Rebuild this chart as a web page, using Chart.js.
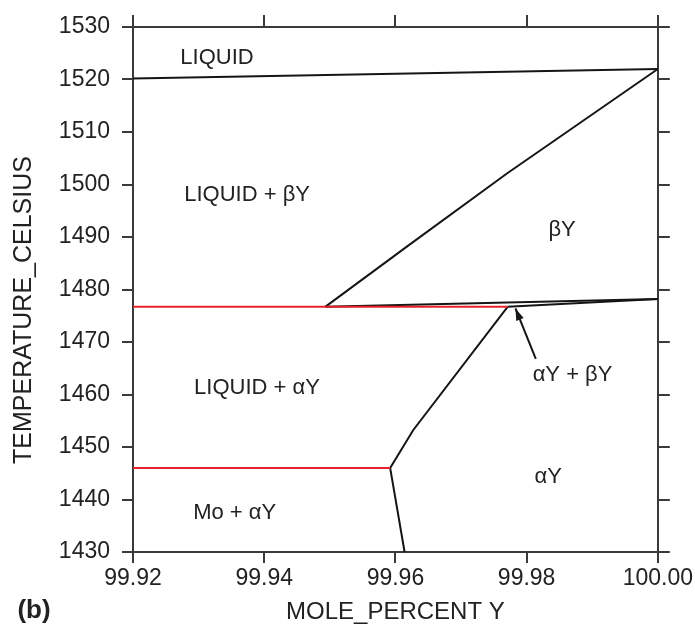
<!DOCTYPE html>
<html>
<head>
<meta charset="utf-8">
<script src="https://cdn.jsdelivr.net/npm/chart.js@4.4.1/dist/chart.umd.min.js"></script>
<style>
  html, body { margin: 0; padding: 0; background: #fff; }
  #wrap { width: 695px; height: 629px; }
</style>
</head>
<body>
<div id="wrap"><canvas id="pd"></canvas></div>
<script>
// phase boundaries, mole percent Y vs temperature (C)
const liquidusX = [99.92, 100.00];
const liquidusT = [1520.2, 1522.0];

const betaSolidusX = [99.9493, 99.962, 99.977, 100.00];
const betaSolidusT = [1476.7, 1488.4, 1502.1, 1522.0];

const betaLowerX = [99.9493, 100.00];
const betaLowerT = [1476.7, 1478.2];

const alphaUpperX = [99.9771, 100.00];
const alphaUpperT = [1476.7, 1478.2];

const alphaSolvusX = [99.9771, 99.9627, 99.9592, 99.9614];
const alphaSolvusT = [1476.7, 1453.2, 1446.0, 1430.0];

const redUpperX = [99.92, 99.9771];
const redUpperT = [1476.7, 1476.7];

const redLowerX = [99.92, 99.9592];
const redLowerT = [1446.0, 1446.0];

const arrowX = [99.9814, 99.9783];
const arrowT = [1466.8, 1476.4];

const xTicks = [99.92, 99.94, 99.96, 99.98, 100.00];

const regionText = ["LIQUID", "LIQUID + βY", "βY", "LIQUID + αY", "Mo + αY", "αY + βY", "αY"];
const regionX = [99.9328, 99.9374, 99.9854, 99.9389, 99.9355, 99.9870, 99.9833];
const regionT = [1524.1, 1498.0, 1491.3, 1461.2, 1437.4, 1463.7, 1444.3];

function pts(xs, ts) {
  return xs.map((x, i) => ({ x: x, y: ts[i] }));
}

function lineSet(xs, ts, color) {
  return {
    data: pts(xs, ts),
    showLine: true,
    borderColor: color,
    borderWidth: 2,
    pointRadius: 0,
    tension: 0,
    clip: 6
  };
}

const BLACK = "#151515";
const RED = "#e8202a";

const datasets = [
  lineSet(redUpperX, redUpperT, RED),
  lineSet(redLowerX, redLowerT, RED),
  lineSet(liquidusX, liquidusT, BLACK),
  lineSet(betaSolidusX, betaSolidusT, BLACK),
  lineSet(betaLowerX, betaLowerT, BLACK),
  lineSet(alphaUpperX, alphaUpperT, BLACK),
  lineSet(alphaSolvusX, alphaSolvusT, BLACK),
  lineSet(arrowX, arrowT, BLACK)
];
const ARROW_INDEX = datasets.length - 1;

const FONT = "'Liberation Sans', Arial, sans-serif";
const INK = "#222";
const AXIS = "#3a3a3a";

// region labels, arrow head, y title and panel letter
const annotate = {
  id: "annotate",
  afterDatasetsDraw(chart) {
    const ctx = chart.ctx;
    const xs = chart.scales.x;
    const ys = chart.scales.y;
    ctx.save();
    ctx.fillStyle = INK;
    ctx.font = "22px " + FONT;
    ctx.textAlign = "center";
    ctx.textBaseline = "middle";
    regionText.forEach((t, i) => {
      ctx.fillText(t, xs.getPixelForValue(regionX[i]), ys.getPixelForValue(regionT[i]));
    });

    // arrow head at the tip of the arrow line
    const pnts = chart.getDatasetMeta(ARROW_INDEX).data;
    const a = pnts[pnts.length - 2], b = pnts[pnts.length - 1];
    const ang = Math.atan2(b.y - a.y, b.x - a.x);
    const len = 12, half = 4;
    ctx.fillStyle = BLACK;
    ctx.beginPath();
    ctx.moveTo(b.x, b.y);
    ctx.lineTo(b.x - len * Math.cos(ang) + half * Math.sin(ang), b.y - len * Math.sin(ang) - half * Math.cos(ang));
    ctx.lineTo(b.x - len * Math.cos(ang) - half * Math.sin(ang), b.y - len * Math.sin(ang) + half * Math.cos(ang));
    ctx.closePath();
    ctx.fill();

    // y axis title
    ctx.fillStyle = INK;
    ctx.font = "25px " + FONT;
    ctx.translate(24, 310);
    ctx.rotate(-Math.PI / 2);
    ctx.fillText("TEMPERATURE_CELSIUS", 0, 0);
    ctx.restore();

    ctx.save();
    ctx.fillStyle = INK;
    ctx.font = "bold 26px " + FONT;
    ctx.textAlign = "center";
    ctx.textBaseline = "middle";
    ctx.fillText("(b)", 34, 611);
    ctx.restore();
  }
};

const gridOpts = (len) => ({
  drawOnChartArea: false,
  drawTicks: true,
  tickLength: len,
  color: AXIS,
  lineWidth: 2
});
const borderOpts = { display: true, color: AXIS, width: 2 };

new Chart(document.getElementById("pd"), {
  type: "scatter",
  data: { datasets: datasets },
  plugins: [annotate],
  options: {
    responsive: true,
    maintainAspectRatio: false,
    animation: false,
    layout: { padding: 0 },
    plugins: {
      legend: { display: false },
      tooltip: { enabled: false }
    },
    scales: {
      x: {
        type: "linear",
        position: "bottom",
        min: 99.92,
        max: 100.00,
        afterBuildTicks: (s) => { s.ticks = xTicks.map(v => ({ value: v })); },
        afterFit: (s) => { s.height = 77; },
        ticks: {
          color: INK,
          font: { family: FONT, size: 23 },
          padding: 2,
          maxRotation: 0,
          callback: (v) => Number(v).toFixed(2)
        },
        grid: gridOpts(11),
        border: borderOpts,
        title: {
          display: true,
          text: "MOLE_PERCENT Y",
          color: INK,
          font: { family: FONT, size: 24 },
          padding: { top: 0, bottom: 2 }
        }
      },
      x2: {
        type: "linear",
        position: "top",
        min: 99.92,
        max: 100.00,
        afterBuildTicks: (s) => { s.ticks = xTicks.map(v => ({ value: v })); },
        afterFit: (s) => { s.height = 27; },
        ticks: { display: false },
        grid: gridOpts(12),
        border: borderOpts
      },
      y: {
        type: "linear",
        position: "left",
        min: 1430,
        max: 1530,
        afterFit: (s) => { s.width = 133; },
        ticks: {
          stepSize: 10,
          color: INK,
          font: { family: FONT, size: 23 },
          padding: 12,
          callback: (v) => String(v)
        },
        grid: gridOpts(11),
        border: borderOpts
      },
      y2: {
        type: "linear",
        position: "right",
        min: 1430,
        max: 1530,
        afterFit: (s) => { s.width = 37; },
        ticks: { display: false, stepSize: 10 },
        grid: gridOpts(12),
        border: borderOpts
      }
    }
  }
});
</script>
</body>
</html>
